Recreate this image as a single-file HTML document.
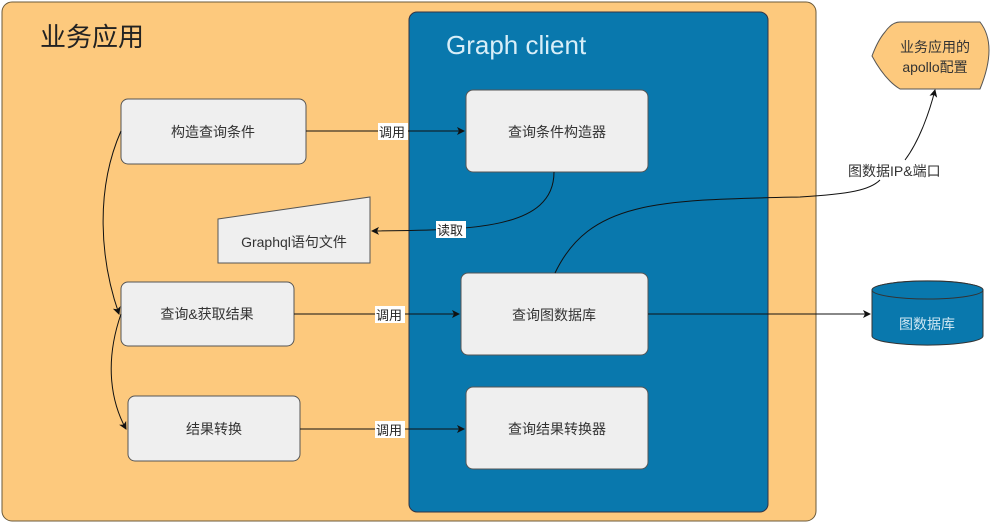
<!DOCTYPE html>
<html><head><meta charset="utf-8"><style>
body{margin:0;width:1000px;height:524px;background:#fff;overflow:hidden;font-family:"Liberation Sans","Noto Sans CJK SC",sans-serif}
</style></head><body>
<svg width="1000" height="524" viewBox="0 0 1000 524" xmlns="http://www.w3.org/2000/svg" font-family="Liberation Sans, Noto Sans CJK SC, sans-serif">
<defs><marker id="a" markerWidth="8" markerHeight="8" refX="7" refY="4" orient="auto" markerUnits="userSpaceOnUse"><path d="M0,0 L8,4 L0,8 L2,4 z" fill="#111"/></marker></defs>
<rect x="2" y="2" width="814" height="519" rx="10" fill="#fdc97d" stroke="#6b5a3a" stroke-width="1"/>
<rect x="409" y="12" width="359" height="500" rx="8" fill="#0978ad" stroke="#334" stroke-width="1"/>
<text x="40" y="46" font-size="26" fill="#222">业务应用</text>
<text x="446" y="54" font-size="26" fill="#d8eef8">Graph client</text>
<g fill="#efefef" stroke="#555" stroke-width="1">
<rect x="121" y="99" width="185" height="65" rx="7"/>
<rect x="466" y="90" width="182" height="82" rx="7"/>
<path d="M218,219 L370,197 L370,263 L218,263 Z"/>
<rect x="121" y="282" width="173" height="64" rx="7"/>
<rect x="461" y="273" width="187" height="82" rx="7"/>
<rect x="128" y="396" width="172" height="65" rx="7"/>
<rect x="466" y="387" width="182" height="82" rx="7"/>
</g>
<path d="M885,32 Q892,22 900,22 L980,22 Q998,45 980,89 L900,89 Q885,80 872,56 Q878,40 885,32 Z" fill="#fdc97d" stroke="#555"/>
<path d="M872,290 L872,336 A55,9 0 0 0 983,336 L983,290 A55,9 0 0 0 872,290 Z" fill="#0978ad" stroke="#333"/>
<ellipse cx="927.5" cy="290" rx="55.5" ry="9" fill="#0978ad" stroke="#333"/>
<g font-size="14" fill="#333" text-anchor="middle">
<text x="213" y="137">构造查询条件</text>
<text x="557" y="137">查询条件构造器</text>
<text x="294" y="247">Graphql语句文件</text>
<text x="207" y="319">查询&amp;获取结果</text>
<text x="554" y="320">查询图数据库</text>
<text x="214" y="434">结果转换</text>
<text x="557" y="434">查询结果转换器</text>
<text x="935" y="52">业务应用的</text>
<text x="935" y="72">apollo配置</text>
<text x="927" y="329" fill="#cfe7f3">图数据库</text>
</g>
<g fill="none" stroke="#111" stroke-width="1">
<path d="M306,131 L464,131" marker-end="url(#a)"/>
<path d="M554,172 C554,230 470,230 372,231" marker-end="url(#a)"/>
<path d="M294,314 L459,314" marker-end="url(#a)"/>
<path d="M300,429 L464,429" marker-end="url(#a)"/>
<path d="M648,314 L870,314" marker-end="url(#a)"/>
<path d="M555,273 C590,200 660,200 800,197 C850,194 870,190 880,180"/>
<path d="M905,160 C920,140 930,110 935,90" marker-end="url(#a)"/>
<path d="M121,131 C95,190 100,260 119,314" marker-end="url(#a)"/>
<path d="M121,314 C105,360 110,400 126,429" marker-end="url(#a)"/>
</g>
<g font-size="13" fill="#222">
<rect x="378" y="123" width="30" height="17" fill="#fff"/><text x="379" y="137">调用</text>
<rect x="436" y="221" width="30" height="17" fill="#fff"/><text x="437" y="235">读取</text>
<rect x="375" y="306" width="30" height="17" fill="#fff"/><text x="376" y="320">调用</text>
<rect x="375" y="421" width="30" height="17" fill="#fff"/><text x="376" y="435">调用</text>
<text x="848" y="176" font-size="14" fill="#333">图数据IP&amp;端口</text>
</g>
</svg>
</body></html>
